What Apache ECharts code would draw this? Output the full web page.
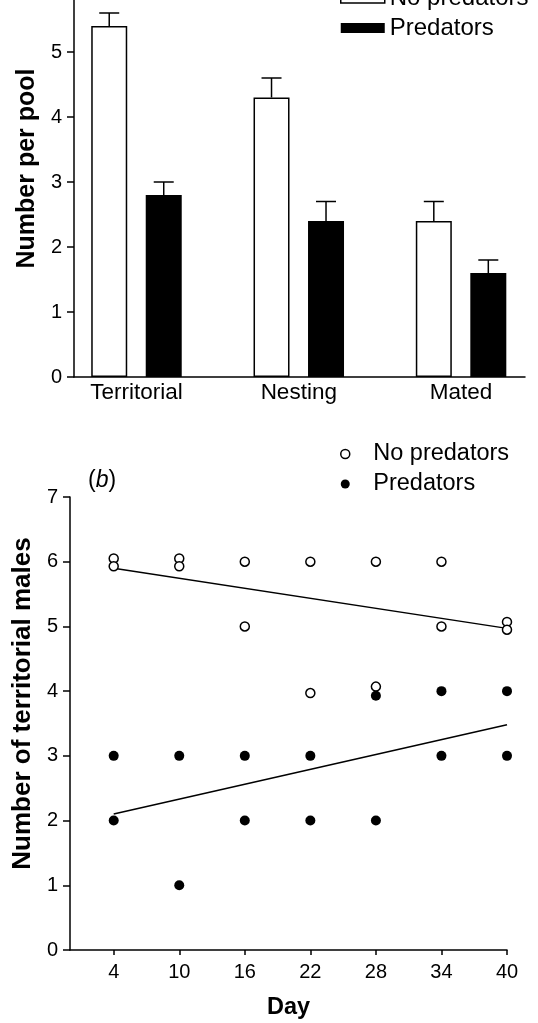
<!DOCTYPE html>
<html><head><meta charset="utf-8">
<script src="https://cdn.jsdelivr.net/npm/echarts@6/dist/echarts.min.js"></script>
<style>html,body{margin:0;padding:0;background:#fff}#c{width:538px;height:1023px}</style>
</head><body><div id="c"></div>
<script>
// ---- Panel (a): bar chart ----
const categories = ['Territorial', 'Nesting', 'Mated'];
const noPredMeans = [5.4, 4.3, 2.4];
const noPredUpper = [5.6, 4.6, 2.7];
const predMeans = [2.8, 2.4, 1.6];
const predUpper = [3.0, 2.7, 1.8];
const barYTicks = [0, 1, 2, 3, 4, 5];

// ---- Panel (b): scatter ----
const days = [4, 10, 16, 22, 28, 34, 40];
const noPredA = [6.05, 6.05, 6.0, 6.0, 6.0, 6.0, 5.07];
const noPredB = [5.93, 5.93, 5.0, 3.97, 4.07, 5.0, 4.95];
const predA = [3, 3, 3, 3, 3.93, 4, 4];
const predB = [2, 1, 2, 2, 2, 3, 3];
const fitDays = [4, 40];
const noPredFit = [5.9, 4.97];
const predFit = [2.1, 3.48];

const FONT = 'Liberation Sans, Arial, Helvetica, sans-serif';
const BAR_W = 36, BAR_GAP = 18.5;
const HALF = (BAR_W + BAR_GAP) / 2;

function errRender(side) {
  return function (params, api) {
    const x = api.value(0), m = api.value(1), u = api.value(2);
    const p0 = api.coord([x, m]);
    const p1 = api.coord([x, u]);
    const cx = p0[0] + side * HALF;
    return {
      type: 'group', children: [
        { type: 'line', shape: { x1: cx, y1: p0[1], x2: cx, y2: p1[1] }, style: { stroke: '#000', lineWidth: 1.5 } },
        { type: 'line', shape: { x1: cx - 10, y1: p1[1], x2: cx + 10, y2: p1[1] }, style: { stroke: '#000', lineWidth: 1.5 } }
      ]
    };
  };
}

const axisLineStyle = { lineStyle: { color: '#000', width: 1.5 } };
const chart = echarts.init(document.getElementById('c'), null, { renderer: 'canvas' });

chart.setOption({
  animation: false,
  backgroundColor: '#fff',
  textStyle: { fontFamily: FONT, color: '#000' },
  grid: [
    { left: 74, right: 13, top: 0, height: 377 },
    { left: 70, right: 31, top: 497, height: 453 }
  ],
  xAxis: [
    {
      type: 'value', gridIndex: 0, min: 0.615, max: 3.394,
      axisLine: axisLineStyle, axisTick: { show: false }, splitLine: { show: false },
      axisLabel: {
        customValues: [1, 2, 3],
        formatter: v => categories[Math.round(v) - 1],
        fontSize: 22.5, color: '#000', margin: 4, fontFamily: FONT
      }
    },
    {
      type: 'value', gridIndex: 1, min: 0, max: 40,
      axisLine: axisLineStyle, splitLine: { show: false },
      axisTick: { customValues: days, length: 5, lineStyle: { color: '#000', width: 1.5 } },
      axisLabel: { customValues: days, fontSize: 20, color: '#000', margin: 12, fontFamily: FONT },
      name: 'Day', nameLocation: 'middle', nameGap: 46,
      nameTextStyle: { fontSize: 23.5, fontWeight: 'bold', color: '#000', fontFamily: FONT }
    }
  ],
  yAxis: [
    {
      type: 'value', gridIndex: 0, min: 0, max: 5.8,
      axisLine: { show: true, lineStyle: { color: '#000', width: 1.5 } }, splitLine: { show: false },
      axisTick: { show: true, customValues: barYTicks, length: 7, lineStyle: { color: '#000', width: 1.5 } },
      axisLabel: { customValues: barYTicks, fontSize: 20, color: '#000', margin: 12, fontFamily: FONT },
      name: 'Number per pool', nameLocation: 'middle', nameGap: 34,
      nameTextStyle: { fontSize: 25, fontWeight: 'bold', color: '#000', fontFamily: FONT, padding: [0, 0, 0, 40] }
    },
    {
      type: 'value', gridIndex: 1, min: 0, max: 7, interval: 1,
      axisLine: { show: true, lineStyle: { color: '#000', width: 1.5 } }, splitLine: { show: false },
      axisTick: { show: true, length: 7, lineStyle: { color: '#000', width: 1.5 } },
      axisLabel: { fontSize: 20, color: '#000', margin: 12, fontFamily: FONT },
      name: 'Number of territorial males', nameLocation: 'middle', nameGap: 33,
      nameTextStyle: { fontSize: 26, fontWeight: 'bold', color: '#000', fontFamily: FONT, padding: [0, 0, 0, 40] }
    }
  ],
  legend: [
    {
      orient: 'vertical', left: 335, top: -19, itemWidth: 44, itemHeight: 10, itemGap: 6,
      selectedMode: false,
      textStyle: { fontSize: 24, lineHeight: 24, color: '#000', fontFamily: FONT },
      data: [
        { name: 'No predators', icon: 'rect', itemStyle: { color: '#fff', borderColor: '#000', borderWidth: 1.5 } },
        { name: 'Predators', icon: 'rect', itemStyle: { color: '#000', borderWidth: 0 } }
      ]
    },
    {
      orient: 'vertical', left: 335, top: 437, itemWidth: 46, itemHeight: 9, itemGap: 6,
      selectedMode: false,
      textStyle: { fontSize: 23.5, lineHeight: 23, color: '#000', fontFamily: FONT },
      data: [
        { name: 'No predators', icon: 'circle', itemStyle: { color: '#fff', borderColor: '#000', borderWidth: 1.5 } },
        { name: 'Predators', icon: 'circle', itemStyle: { color: '#000', borderWidth: 0 } }
      ]
    }
  ],
  graphic: [
    {
      type: 'text', left: 88, top: 469,
      style: {
        text: '({i|b})', fontSize: 23, fontFamily: FONT, fill: '#000',
        rich: { i: { fontStyle: 'italic', fontSize: 23, fontFamily: FONT } }
      }
    }
  ],
  series: [
    {
      name: 'No predators', type: 'bar', xAxisIndex: 0, yAxisIndex: 0,
      barWidth: BAR_W, barGap: (BAR_GAP / BAR_W * 100) + '%',
      data: categories.map((c, i) => [i + 1, noPredMeans[i]]),
      itemStyle: { color: '#fff', borderColor: '#000', borderWidth: 1.5 }
    },
    {
      name: 'Predators', type: 'bar', xAxisIndex: 0, yAxisIndex: 0,
      barWidth: BAR_W, barGap: (BAR_GAP / BAR_W * 100) + '%',
      data: categories.map((c, i) => [i + 1, predMeans[i]]),
      itemStyle: { color: '#000' }
    },
    {
      type: 'custom', xAxisIndex: 0, yAxisIndex: 0, z: 5,
      renderItem: errRender(-1), encode: { x: 0, y: [1, 2] },
      data: categories.map((c, i) => [i + 1, noPredMeans[i], noPredUpper[i]])
    },
    {
      type: 'custom', xAxisIndex: 0, yAxisIndex: 0, z: 5,
      renderItem: errRender(1), encode: { x: 0, y: [1, 2] },
      data: categories.map((c, i) => [i + 1, predMeans[i], predUpper[i]])
    },
    {
      name: 'No predators', type: 'scatter', xAxisIndex: 1, yAxisIndex: 1, z: 4,
      symbol: 'circle', symbolSize: 9,
      itemStyle: { color: '#fff', borderColor: '#000', borderWidth: 1.5, opacity: 1 },
      data: days.map((d, i) => [d, noPredA[i]]).concat(days.map((d, i) => [d, noPredB[i]]))
    },
    {
      name: 'Predators', type: 'scatter', xAxisIndex: 1, yAxisIndex: 1, z: 4,
      symbol: 'circle', symbolSize: 10,
      itemStyle: { color: '#000', opacity: 1 },
      data: days.map((d, i) => [d, predA[i]]).concat(days.map((d, i) => [d, predB[i]]))
    },
    {
      type: 'line', xAxisIndex: 1, yAxisIndex: 1, z: 3, showSymbol: false, symbol: 'none',
      lineStyle: { color: '#000', width: 1.5 },
      data: fitDays.map((d, i) => [d, noPredFit[i]])
    },
    {
      type: 'line', xAxisIndex: 1, yAxisIndex: 1, z: 3, showSymbol: false, symbol: 'none',
      lineStyle: { color: '#000', width: 1.5 },
      data: fitDays.map((d, i) => [d, predFit[i]])
    }
  ]
});
</script>
</body></html>
